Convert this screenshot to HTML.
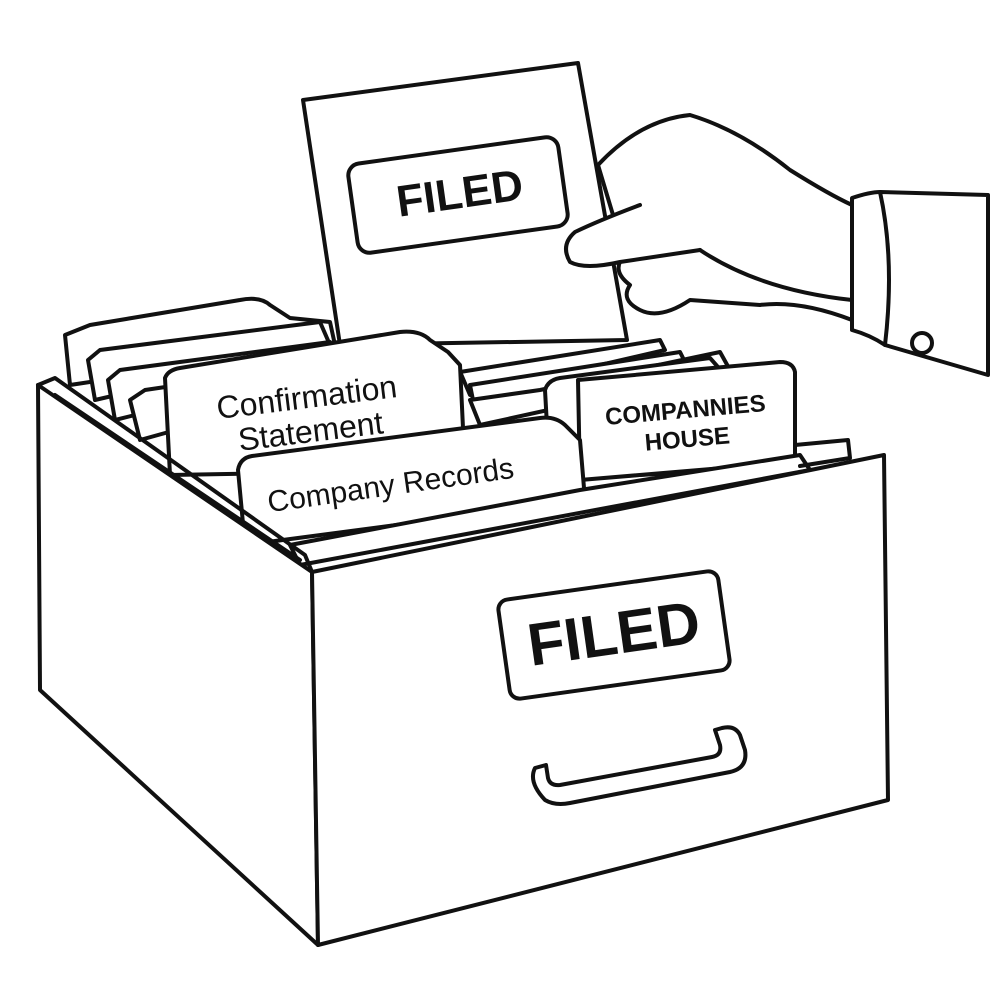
<!DOCTYPE html>
<html><head><meta charset="utf-8"><style>
html,body{margin:0;padding:0;background:#fff;width:1000px;height:1000px;overflow:hidden}
svg{display:block}
text{font-family:"Liberation Sans",sans-serif;fill:#111}
</style></head><body>
<svg width="1000" height="1000" viewBox="0 0 1000 1000" xmlns="http://www.w3.org/2000/svg">
<g fill="#fff" stroke="#111" stroke-width="4" stroke-linejoin="round" stroke-linecap="round">
<!-- back folders -->
<path d="M65,335 L90,325 L240,300 Q260,296 270,305 L290,318 L330,322 L335,345 L70,385 Z"/>
<path d="M88,360 L100,350 L320,322 L330,345 L95,400 Z"/>
<path d="M108,380 L120,370 L330,342 L335,365 L115,420 Z"/>
<path d="M130,400 L145,390 L335,362 L338,385 L140,440 Z"/>
<!-- hand behind paper (fingers) -->
<path d="M598,165 Q640,120 690,115 Q740,130 790,170 Q830,195 852,205 L852,320 Q800,300 760,305 L690,300 Q660,320 640,310 Q620,300 630,285 Q610,270 625,255 Z"/>
<!-- paper -->
<path d="M303,100 L578,63 L627,340 L340,345 Z"/>
<rect x="352" y="150" width="212" height="90" rx="12" transform="rotate(-8 458 195)"/>
<!-- thumb over paper -->
<path d="M640,205 Q600,220 575,232 Q560,245 570,262 Q585,270 620,262 L700,250"/>
<path d="M700,250 Q760,290 852,300" fill="none"/>
<!-- cuff -->
<path d="M852,198 Q870,192 880,192 L988,195 L988,375 L885,345 Q870,335 852,330 Z"/>
<path d="M880,192 Q895,260 885,345" fill="none"/>
<circle cx="922" cy="343" r="10"/>
<!-- middle folders -->
<path d="M455,360 L460,372 L660,340 L665,350 L470,395 Z"/>
<path d="M470,385 L680,352 L685,362 L475,410 Z"/>
<path d="M470,400 L540,390 L720,352 L730,370 L480,425 Z"/>
<!-- confirmation folder -->
<path d="M165,378 Q168,370 180,368 L400,332 Q420,330 430,340 L448,352 L460,365 L465,470 L170,475 Z"/>
<!-- companies house folder -->
<path d="M545,390 Q548,380 560,378 L710,358 L725,375 L730,470 L550,480 Z"/>
<path d="M578,380 L780,362 Q793,362 795,372 L795,462 L580,480 Z"/>
<!-- company records folder -->
<path d="M238,470 Q240,458 252,456 L540,418 Q555,416 565,425 L580,440 L585,500 L245,545 Z"/>
<path d="M290,545 L580,490 L800,455 L810,470 L300,565 Z"/>
<!-- drawer left side -->
<path d="M38,385 L312,572 L318,945 L40,690 Z"/>
<path d="M38,385 L55,378 L305,555 L312,572" fill="none"/>
<path d="M55,395 L300,560" fill="none"/>
<!-- back rim right -->
<path d="M795,445 L848,440 L850,458 L800,466" fill="none"/>
<!-- drawer front -->
<path d="M312,572 L884,455 L888,800 L318,945 Z"/>
<rect x="503" y="585" width="222" height="100" rx="10" transform="rotate(-8 614 635)"/>
<!-- handle -->
<path d="M535,768 Q528,782 545,800 Q555,806 570,803 L730,772 Q748,768 745,750 L740,735 Q735,725 722,728 L715,730 L720,745 Q722,755 712,757 L560,785 Q550,786 548,778 L546,765 Z"/>
</g>
<text x="460" y="208" font-size="44" font-weight="bold" text-anchor="middle" transform="rotate(-8 460 195)">FILED</text>
<text x="614" y="654" font-size="60" font-weight="bold" text-anchor="middle" transform="rotate(-8 614 635)">FILED</text>
<text x="308" y="408" font-size="32" text-anchor="middle" transform="rotate(-7 308 408)">Confirmation</text>
<text x="312" y="442" font-size="32" text-anchor="middle" transform="rotate(-7 312 442)">Statement</text>
<text x="392" y="495" font-size="30" text-anchor="middle" transform="rotate(-8 392 495)">Company Records</text>
<text x="686" y="418" font-size="24" font-weight="bold" text-anchor="middle" transform="rotate(-5 686 418)">COMPANNIES</text>
<text x="688" y="447" font-size="24" font-weight="bold" text-anchor="middle" transform="rotate(-5 688 447)">HOUSE</text>
</svg>
</body></html>
